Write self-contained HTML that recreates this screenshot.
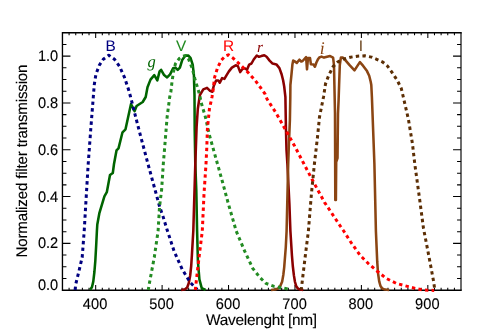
<!DOCTYPE html>
<html><head><meta charset="utf-8"><title>Filter transmission</title>
<style>
html,body{margin:0;padding:0;background:#fff;}
svg{display:block;font-family:"Liberation Sans",sans-serif;fill:#000;}
svg{will-change:transform;text-rendering:geometricPrecision;filter:blur(0.3px);}
</style></head><body>
<svg width="498" height="332" viewBox="0 0 498 332">
<rect x="0" y="0" width="498" height="332" fill="#fff"/>
<path d="M62.45,32.70 H461.05 M62.45,290.20 H461.05 M62.45,32.70 V290.20" fill="none" stroke="#000" stroke-width="1.35" stroke-linecap="square"/>
<path d="M461.00,32.70 V290.20" fill="none" stroke="#000" stroke-width="1.15"/>
<path d="M69.09,290.20 v-2.50 M69.09,32.70 v2.50 M75.74,290.20 v-2.50 M75.74,32.70 v2.50 M82.38,290.20 v-2.50 M82.38,32.70 v2.50 M89.02,290.20 v-2.50 M89.02,32.70 v2.50 M95.67,290.20 v-5.30 M95.67,32.70 v5.30 M102.31,290.20 v-2.50 M102.31,32.70 v2.50 M108.95,290.20 v-2.50 M108.95,32.70 v2.50 M115.60,290.20 v-2.50 M115.60,32.70 v2.50 M122.24,290.20 v-2.50 M122.24,32.70 v2.50 M128.88,290.20 v-2.50 M128.88,32.70 v2.50 M135.53,290.20 v-2.50 M135.53,32.70 v2.50 M142.17,290.20 v-2.50 M142.17,32.70 v2.50 M148.81,290.20 v-2.50 M148.81,32.70 v2.50 M155.46,290.20 v-2.50 M155.46,32.70 v2.50 M162.10,290.20 v-5.30 M162.10,32.70 v5.30 M168.74,290.20 v-2.50 M168.74,32.70 v2.50 M175.39,290.20 v-2.50 M175.39,32.70 v2.50 M182.03,290.20 v-2.50 M182.03,32.70 v2.50 M188.67,290.20 v-2.50 M188.67,32.70 v2.50 M195.32,290.20 v-2.50 M195.32,32.70 v2.50 M201.96,290.20 v-2.50 M201.96,32.70 v2.50 M208.60,290.20 v-2.50 M208.60,32.70 v2.50 M215.25,290.20 v-2.50 M215.25,32.70 v2.50 M221.89,290.20 v-2.50 M221.89,32.70 v2.50 M228.53,290.20 v-5.30 M228.53,32.70 v5.30 M235.18,290.20 v-2.50 M235.18,32.70 v2.50 M241.82,290.20 v-2.50 M241.82,32.70 v2.50 M248.46,290.20 v-2.50 M248.46,32.70 v2.50 M255.11,290.20 v-2.50 M255.11,32.70 v2.50 M261.75,290.20 v-2.50 M261.75,32.70 v2.50 M268.39,290.20 v-2.50 M268.39,32.70 v2.50 M275.04,290.20 v-2.50 M275.04,32.70 v2.50 M281.68,290.20 v-2.50 M281.68,32.70 v2.50 M288.32,290.20 v-2.50 M288.32,32.70 v2.50 M294.97,290.20 v-5.30 M294.97,32.70 v5.30 M301.61,290.20 v-2.50 M301.61,32.70 v2.50 M308.25,290.20 v-2.50 M308.25,32.70 v2.50 M314.90,290.20 v-2.50 M314.90,32.70 v2.50 M321.54,290.20 v-2.50 M321.54,32.70 v2.50 M328.18,290.20 v-2.50 M328.18,32.70 v2.50 M334.83,290.20 v-2.50 M334.83,32.70 v2.50 M341.47,290.20 v-2.50 M341.47,32.70 v2.50 M348.11,290.20 v-2.50 M348.11,32.70 v2.50 M354.76,290.20 v-2.50 M354.76,32.70 v2.50 M361.40,290.20 v-5.30 M361.40,32.70 v5.30 M368.04,290.20 v-2.50 M368.04,32.70 v2.50 M374.69,290.20 v-2.50 M374.69,32.70 v2.50 M381.33,290.20 v-2.50 M381.33,32.70 v2.50 M387.97,290.20 v-2.50 M387.97,32.70 v2.50 M394.62,290.20 v-2.50 M394.62,32.70 v2.50 M401.26,290.20 v-2.50 M401.26,32.70 v2.50 M407.90,290.20 v-2.50 M407.90,32.70 v2.50 M414.55,290.20 v-2.50 M414.55,32.70 v2.50 M421.19,290.20 v-2.50 M421.19,32.70 v2.50 M427.83,290.20 v-5.30 M427.83,32.70 v5.30 M434.48,290.20 v-2.50 M434.48,32.70 v2.50 M441.12,290.20 v-2.50 M441.12,32.70 v2.50 M447.76,290.20 v-2.50 M447.76,32.70 v2.50 M454.41,290.20 v-2.50 M454.41,32.70 v2.50 M62.45,278.50 h4.00 M461.05,278.50 h-4.00 M62.45,266.79 h4.00 M461.05,266.79 h-4.00 M62.45,255.09 h4.00 M461.05,255.09 h-4.00 M62.45,243.38 h8.00 M461.05,243.38 h-8.00 M62.45,231.68 h4.00 M461.05,231.68 h-4.00 M62.45,219.97 h4.00 M461.05,219.97 h-4.00 M62.45,208.27 h4.00 M461.05,208.27 h-4.00 M62.45,196.56 h8.00 M461.05,196.56 h-8.00 M62.45,184.86 h4.00 M461.05,184.86 h-4.00 M62.45,173.15 h4.00 M461.05,173.15 h-4.00 M62.45,161.45 h4.00 M461.05,161.45 h-4.00 M62.45,149.75 h8.00 M461.05,149.75 h-8.00 M62.45,138.04 h4.00 M461.05,138.04 h-4.00 M62.45,126.34 h4.00 M461.05,126.34 h-4.00 M62.45,114.63 h4.00 M461.05,114.63 h-4.00 M62.45,102.93 h8.00 M461.05,102.93 h-8.00 M62.45,91.22 h4.00 M461.05,91.22 h-4.00 M62.45,79.52 h4.00 M461.05,79.52 h-4.00 M62.45,67.81 h4.00 M461.05,67.81 h-4.00 M62.45,56.11 h8.00 M461.05,56.11 h-8.00 M62.45,44.40 h4.00 M461.05,44.40 h-4.00" stroke="#000" stroke-width="1.05" fill="none"/>
<path d="M90.2,289.8 L92.0,287.0 L93.3,281.4 L94.4,272.0 L95.3,261.2 L96.2,245.0 L96.9,231.0 L97.3,224.5 L99.3,213.4 L104.4,196.3 L106.8,192.2 L110.0,175.0 L112.8,173.0 L114.0,164.0 L116.5,150.4 L118.5,148.4 L122.5,132.3 L125.5,129.3 L131.0,104.0 L134.6,111.1 L136.6,106.0 L142.7,102.0 L145.7,97.0 L147.5,87.2 L150.5,79.6 L154.3,75.1 L157.3,80.4 L159.6,71.4 L161.1,69.8 L164.1,75.1 L167.1,77.4 L170.1,74.4 L173.1,68.3 L175.4,67.6 L177.7,69.8 L179.9,67.6 L182.2,60.1 L185.2,55.8 L188.2,55.5 L190.5,57.8 L192.7,64.6 L193.9,75.1 L194.5,95.0 L194.7,130.0 L195.3,164.0 L196.3,190.0 L197.1,231.0 L197.9,261.2 L199.4,279.4 L201.8,288.3 L205.6,289.9" fill="none" stroke="#006400" stroke-width="2.55" stroke-linejoin="round" stroke-linecap="butt"/>
<path d="M181.2,290.0 L185.0,289.3 L187.2,287.5 L188.8,283.0 L190.2,275.4 L191.2,266.0 L191.9,255.2 L193.3,231.0 L195.3,164.0 L195.9,147.0 L196.6,127.0 L197.8,109.0 L199.9,95.0 L203.3,89.4 L207.0,87.9 L210.1,90.9 L212.3,91.7 L213.8,85.7 L216.1,80.4 L218.3,80.4 L219.8,82.7 L222.1,78.1 L224.4,78.9 L226.6,75.1 L228.9,71.4 L231.9,67.6 L235.7,65.3 L237.9,66.1 L240.2,72.1 L242.4,69.1 L244.7,68.3 L247.0,69.8 L249.2,64.6 L251.5,63.5 L253.7,59.5 L256.8,55.5 L259.0,56.8 L261.3,56.1 L264.3,55.3 L266.6,56.8 L269.6,60.6 L272.6,63.6 L276.4,64.4 L279.4,68.1 L281.6,74.2 L283.1,80.2 L284.2,86.5 L285.4,97.0 L285.9,127.0 L286.5,150.0 L287.4,164.0 L289.4,204.0 L290.4,231.0 L291.9,255.0 L292.8,266.0 L293.9,275.4 L295.0,282.0 L296.3,286.4 L298.0,288.6 L300.3,289.5 L303.3,290.0" fill="none" stroke="#8B0000" stroke-width="2.55" stroke-linejoin="round" stroke-linecap="butt"/>
<path d="M271.1,290.0 L275.0,289.6 L278.1,288.5 L280.3,286.0 L282.2,281.4 L283.3,275.0 L284.2,267.3 L285.8,247.0 L286.6,231.0 L288.2,164.0 L288.9,144.0 L289.9,120.0 L290.3,97.0 L290.4,85.0 L291.5,74.2 L292.4,64.6 L293.2,60.5 L294.7,61.4 L296.8,62.9 L299.4,59.7 L301.2,61.5 L302.6,61.0 L306.1,57.2 L307.0,69.3 L308.0,57.9 L310.0,57.9 L310.9,64.3 L313.5,64.5 L314.9,66.7 L316.4,62.5 L317.8,59.6 L319.3,57.5 L321.5,56.6 L324.0,57.6 L327.0,56.8 L330.1,56.1 L333.1,57.6 L334.0,65.1 L334.4,85.0 L335.0,113.0 L335.3,200.0 L335.9,200.0 L336.2,162.0 L337.5,158.0 L338.0,114.0 L338.6,100.0 L339.1,85.0 L339.8,65.1 L340.9,57.6 L342.9,57.6 L345.1,59.8 L349.6,65.1 L354.5,70.4 L357.9,65.1 L359.9,62.1 L363.2,65.9 L367.0,71.1 L369.2,75.7 L370.7,81.7 L371.3,85.0 L371.9,97.0 L374.4,164.0 L375.9,231.0 L377.2,261.2 L378.0,273.0 L379.2,281.4 L380.5,286.0 L382.2,288.5 L385.0,289.6 L389.2,290.0" fill="none" stroke="#8B4513" stroke-width="2.55" stroke-linejoin="round" stroke-linecap="butt"/>
<path d="M75.1,290.0 L75.7,284.4 L79.0,271.0 L82.2,257.2 L84.2,231.0 L86.2,197.0 L88.2,164.0 L90.7,130.0 L93.3,97.0 L94.3,84.4 L95.9,74.4 L99.3,65.3 L103.3,59.2 L108.8,55.2 L114.4,59.2 L119.5,66.3 L124.5,77.4 L128.5,89.5 L130.6,97.0 L139.0,130.0 L148.0,164.0 L154.0,186.0 L159.8,207.3 L163.0,216.4 L167.0,229.5 L174.1,251.2 L182.2,269.3 L190.2,282.4 L197.3,289.5" fill="none" stroke="#000080" stroke-width="3.00" stroke-linejoin="round" stroke-linecap="butt" stroke-dasharray="3.40 3.25" stroke-dashoffset="6.65"/>
<path d="M148.3,290.0 L149.0,285.4 L154.3,257.2 L158.1,231.0 L159.5,207.0 L161.6,190.0 L163.3,164.0 L165.0,143.4 L167.1,117.2 L169.7,97.0 L170.9,91.7 L171.9,82.7 L173.4,72.1 L175.4,63.8 L179.2,58.6 L182.9,56.3 L186.0,55.5 L188.4,58.5 L190.2,63.3 L192.0,67.6 L193.3,72.3 L195.0,79.5 L197.2,86.5 L199.3,93.5 L201.3,103.0 L205.4,117.0 L209.4,135.0 L213.4,149.4 L217.5,164.0 L222.5,182.0 L228.5,204.3 L236.2,231.0 L244.7,251.2 L252.7,268.3 L259.8,277.4 L266.0,283.4 L274.1,286.4 L282.2,287.9 L289.2,289.3" fill="none" stroke="#228B22" stroke-width="3.00" stroke-linejoin="round" stroke-linecap="butt" stroke-dasharray="3.40 3.25" stroke-dashoffset="0.36"/>
<path d="M195.3,290.0 L196.7,277.4 L199.3,255.2 L202.3,231.0 L204.0,194.0 L206.0,164.0 L206.8,147.4 L207.4,129.0 L209.4,109.0 L212.0,97.0 L213.1,90.2 L214.6,77.4 L217.6,67.6 L221.4,60.1 L225.1,56.3 L228.4,54.8 L232.7,57.8 L240.2,64.6 L247.7,72.1 L255.2,80.4 L261.3,88.7 L265.0,93.9 L267.0,99.0 L276.1,113.0 L285.2,129.3 L294.3,145.4 L304.0,164.0 L312.4,180.0 L324.5,202.3 L340.6,226.5 L343.7,231.0 L350.7,242.0 L360.0,255.2 L368.1,263.3 L376.1,270.3 L386.2,278.4 L396.3,283.4 L408.4,286.6 L416.0,288.6 L422.0,289.8 L428.0,290.3 L434.2,290.4" fill="none" stroke="#FF0000" stroke-width="3.00" stroke-linejoin="round" stroke-linecap="butt" stroke-dasharray="3.40 3.25" stroke-dashoffset="0.24"/>
<path d="M301.3,289.5 L302.7,277.4 L305.4,255.0 L308.4,231.0 L311.4,194.0 L314.4,164.0 L317.5,137.0 L319.5,117.0 L323.5,97.0 L325.5,83.9 L328.6,75.7 L333.1,66.6 L337.6,62.1 L343.6,59.0 L350.4,57.2 L357.2,56.2 L364.7,55.8 L371.5,57.1 L376.7,59.3 L382.8,62.1 L387.3,65.9 L391.3,71.3 L397.3,80.4 L401.3,88.5 L403.3,97.0 L408.4,119.2 L412.4,143.4 L414.8,164.0 L419.5,198.3 L423.5,228.5 L427.5,249.0 L430.6,265.3 L433.6,281.4 L434.6,288.5" fill="none" stroke="#5C2E04" stroke-width="3.00" stroke-linejoin="round" stroke-linecap="butt" stroke-dasharray="3.40 3.25" stroke-dashoffset="1.05"/>
<text transform="translate(95.17,309.10) scale(1,1.050)" text-anchor="middle" font-size="14.60" fill="#000" stroke="#000" stroke-width="0.12" textLength="24.6" lengthAdjust="spacing">400</text>
<text transform="translate(161.60,309.10) scale(1,1.050)" text-anchor="middle" font-size="14.60" fill="#000" stroke="#000" stroke-width="0.12" textLength="24.6" lengthAdjust="spacing">500</text>
<text transform="translate(228.03,309.10) scale(1,1.050)" text-anchor="middle" font-size="14.60" fill="#000" stroke="#000" stroke-width="0.12" textLength="24.6" lengthAdjust="spacing">600</text>
<text transform="translate(294.47,309.10) scale(1,1.050)" text-anchor="middle" font-size="14.60" fill="#000" stroke="#000" stroke-width="0.12" textLength="24.6" lengthAdjust="spacing">700</text>
<text transform="translate(360.90,309.10) scale(1,1.050)" text-anchor="middle" font-size="14.60" fill="#000" stroke="#000" stroke-width="0.12" textLength="24.6" lengthAdjust="spacing">800</text>
<text transform="translate(427.33,309.10) scale(1,1.050)" text-anchor="middle" font-size="14.60" fill="#000" stroke="#000" stroke-width="0.12" textLength="24.6" lengthAdjust="spacing">900</text>
<text transform="translate(58.10,290.40) scale(1,1.050)" text-anchor="end" font-size="14.60" fill="#000" stroke="#000" stroke-width="0.12" textLength="20.2" lengthAdjust="spacing">0.0</text>
<text transform="translate(58.10,248.43) scale(1,1.050)" text-anchor="end" font-size="14.60" fill="#000" stroke="#000" stroke-width="0.12" textLength="20.2" lengthAdjust="spacing">0.2</text>
<text transform="translate(58.10,201.61) scale(1,1.050)" text-anchor="end" font-size="14.60" fill="#000" stroke="#000" stroke-width="0.12" textLength="20.2" lengthAdjust="spacing">0.4</text>
<text transform="translate(58.10,154.80) scale(1,1.050)" text-anchor="end" font-size="14.60" fill="#000" stroke="#000" stroke-width="0.12" textLength="20.2" lengthAdjust="spacing">0.6</text>
<text transform="translate(58.10,107.98) scale(1,1.050)" text-anchor="end" font-size="14.60" fill="#000" stroke="#000" stroke-width="0.12" textLength="20.2" lengthAdjust="spacing">0.8</text>
<text transform="translate(58.10,61.16) scale(1,1.050)" text-anchor="end" font-size="14.60" fill="#000" stroke="#000" stroke-width="0.12" textLength="20.2" lengthAdjust="spacing">1.0</text>
<text transform="translate(261.60,324.80)" text-anchor="middle" font-size="15.40" fill="#000" stroke="#000" stroke-width="0.12" textLength="111.0" lengthAdjust="spacing">Wavelenght [nm]</text>
<text transform="translate(26.90,161.00) rotate(-90) scale(1,1.020)" text-anchor="middle" font-size="15.10" fill="#000" stroke="#000" stroke-width="0.12" textLength="193.0" lengthAdjust="spacing">Normalized filter transmission</text>
<text transform="translate(110.70,50.80)" text-anchor="middle" font-size="15.40" fill="#000080" stroke="#000080" stroke-width="0.04">B</text>
<text transform="translate(181.20,50.80)" text-anchor="middle" font-size="15.40" fill="#228B22" stroke="#228B22" stroke-width="0.04">V</text>
<text transform="translate(228.50,50.80)" text-anchor="middle" font-size="15.40" fill="#FF0000" stroke="#FF0000" stroke-width="0.04">R</text>
<text transform="translate(361.00,50.80)" text-anchor="middle" font-size="15.40" fill="#6E4822" stroke="#6E4822" stroke-width="0.04">I</text>
<text transform="translate(151.60,66.80)" text-anchor="middle" font-size="16.50" fill="#006400" stroke="#006400" stroke-width="0.00" font-family="Liberation Serif, serif" font-style="italic">g</text>
<text transform="translate(259.90,51.70)" text-anchor="middle" font-size="15.30" fill="#8B0000" stroke="#8B0000" stroke-width="0.00" font-family="Liberation Serif, serif" font-style="italic">r</text>
<text transform="translate(322.10,53.90)" text-anchor="middle" font-size="17.80" fill="#8B4513" stroke="#8B4513" stroke-width="0.00" font-family="Liberation Serif, serif" font-style="italic">i</text>
</svg>
</body></html>
